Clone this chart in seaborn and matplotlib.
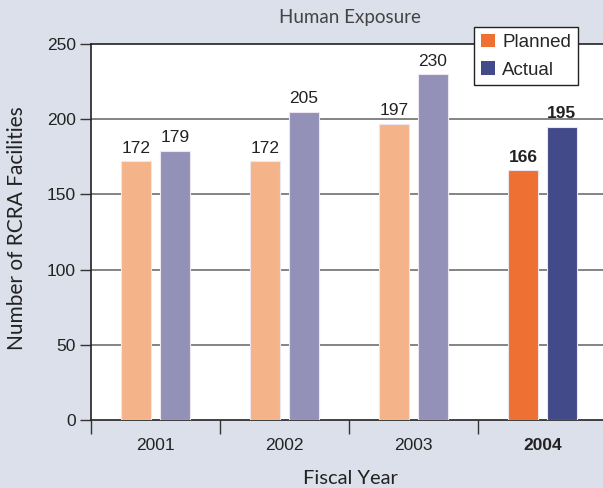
import matplotlib
matplotlib.use("Agg")
import matplotlib.pyplot as plt
import seaborn as sns
import pandas as pd
from matplotlib.patches import Patch

# Data
years = ["2001", "2002", "2003", "2004"]
planned = [172, 172, 197, 166]
actual = [179, 205, 230, 195]
series = ["Planned", "Actual"]

pale = {"Planned": "#F5B38A", "Actual": "#9391B8"}
bold = {"Planned": "#EE7033", "Actual": "#434A8A"}

df = pd.DataFrame({
    "Fiscal Year": years * 2,
    "Series": ["Planned"] * len(years) + ["Actual"] * len(years),
    "Value": planned + actual,
})

sns.set_theme(style="white")
plt.rcParams["font.family"] = ["Liberation Sans Narrow", "Liberation Sans", "DejaVu Sans"]
bg = "#DCE0EA"
humanist = ["Lato", "DejaVu Sans"]

fig = plt.figure(figsize=(6.03, 4.88), dpi=100, facecolor=bg)
ax = fig.add_axes([91 / 603, (488 - 420) / 488, 516 / 603, 376 / 488])
ax.set_facecolor("white")

sns.barplot(data=df, x="Fiscal Year", y="Value", hue="Series", order=years,
            hue_order=series, palette=pale, width=0.6, gap=0.22,
            saturation=1, ax=ax, legend=False, zorder=3)

# Recolor bars: the latest year is drawn in the strong colours
for cont, s in zip(ax.containers, series):
    for i, bar in enumerate(cont):
        bar.set_facecolor(bold[s] if years[i] == "2004" else pale[s])
        bar.set_edgecolor("#EDE6EE")
        bar.set_linewidth(0.8)
    labels = [str(int(v)) for v in cont.datavalues]
    texts = ax.bar_label(cont, labels=labels, padding=4, fontsize=12.5, color="#222222")
    texts[-1].set_fontweight("bold")

ax.set_ylim(0, 250)
ax.set_xlim(-0.5, 3.5)
ax.set_yticks([0, 50, 100, 150, 200, 250])
ax.tick_params(axis="y", length=8, width=1, color="#333333", labelsize=12.5,
               labelcolor="#222222", pad=3, left=True)
ax.tick_params(axis="x", length=0, labelsize=12.5, labelcolor="#222222", pad=13)
ax.set_xticks([-0.5, 0.5, 1.5, 2.5, 3.5], minor=True)
ax.tick_params(axis="x", which="minor", length=10, width=1, color="#333333", bottom=True)
for lbl in ax.get_xticklabels():
    if lbl.get_text() == "2004":
        lbl.set_fontweight("bold")

for v in [50, 100, 150, 200]:
    ax.axhline(v, color="#6E6E6E", lw=1.2, zorder=1)

for side in ["left", "bottom", "top"]:
    ax.spines[side].set_visible(True)
    ax.spines[side].set_color("#222222")
    ax.spines[side].set_linewidth(1.2)
ax.spines["right"].set_visible(False)

ax.set_xlabel("Fiscal Year", fontsize=14.5, color="#222222", family=humanist)
ax.set_ylabel("Number of RCRA Facilities", fontsize=15, color="#222222", family=humanist)
ax.xaxis.set_label_coords((350 - 91) / 516, -(478 - 420) / 376, transform=ax.transAxes)
ax.xaxis.label.set_va("center")
ax.yaxis.set_label_coords(-(91 - 17) / 516, (420 - 228) / 376, transform=ax.transAxes)
ax.yaxis.label.set_va("center")

fig.text(350 / 603, 1 - 17 / 488, "Human Exposure", ha="center", va="center",
         fontsize=13.5, color="#444444", family=humanist)

handles = [Patch(facecolor=bold[s], edgecolor="none", label=s) for s in series]
leg = fig.legend(handles=handles, loc="upper left",
                 bbox_to_anchor=(474 / 603, 1 - 27 / 488), frameon=True,
                 fontsize=13.5, handlelength=0.75, handleheight=0.75,
                 handletextpad=0.4, borderpad=0.35, labelspacing=0.55,
                 fancybox=False, borderaxespad=0,
                 prop={"family": ["Liberation Sans Narrow", "Liberation Sans"], "size": 13.5})
leg.get_frame().set_edgecolor("#222222")
leg.get_frame().set_linewidth(1.0)
leg.get_frame().set_facecolor("white")
leg.get_frame().set_alpha(1)

fig.savefig("out.png", dpi=100, facecolor=bg)
